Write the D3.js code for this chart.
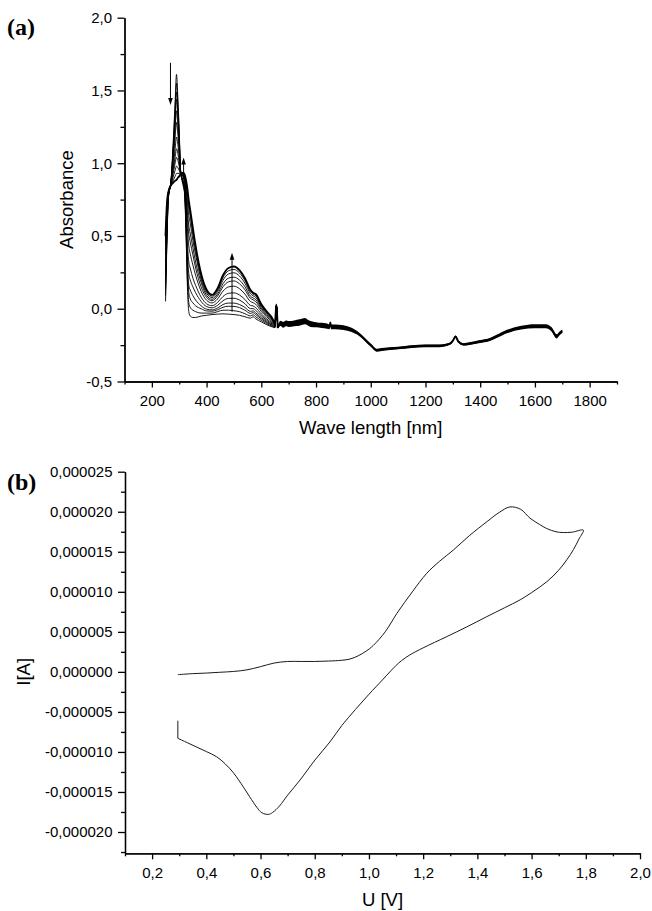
<!DOCTYPE html>
<html>
<head>
<meta charset="utf-8">
<script src="https://cdn.jsdelivr.net/npm/d3@7"></script>
<style>
  body { margin: 0; background: #fff; }
  svg { display: block; }
</style>
</head>
<body>
<svg id="chart" width="652" height="911"></svg>
<script>
// ---------- (a) UV-Vis-NIR spectra ----------
const wavelengths = [250,255,260,270,280,285,290,295,300,305,315,320,325,330,335,340,350,360,380,400,420,440,460,480,500,520,540,560,570,580,600,620,640,650,655,660];

const spectrum1  = [0.05,0.45,0.75,0.88,1.22,1.42,1.61,1.45,1.22,0.95,0.84,0.78,0.50,0.15,-0.02,-0.05,-0.06,-0.06,-0.05,-0.045,-0.04,-0.037,-0.035,-0.037,-0.04,-0.045,-0.055,-0.065,-0.055,-0.07,-0.09,-0.11,-0.125,-0.13,0.02,-0.13];
const spectrum2  = [0.09,0.47,0.75,0.88,1.19,1.38,1.55,1.41,1.20,0.95,0.85,0.79,0.53,0.20,0.04,0.01,-0.01,-0.02,-0.03,-0.03,-0.03,-0.02,-0.01,-0.01,-0.014,-0.02,-0.034,-0.049,-0.042,-0.056,-0.08,-0.103,-0.12,-0.128,0.02,-0.13];
const spectrum3  = [0.13,0.50,0.76,0.875,1.16,1.33,1.49,1.36,1.17,0.95,0.86,0.80,0.56,0.26,0.11,0.07,0.04,0.02,0.00,-0.015,-0.017,-0.007,0.01,0.017,0.016,0.008,-0.01,-0.032,-0.027,-0.041,-0.07,-0.095,-0.115,-0.125,0.02,-0.13];
const spectrum4  = [0.16,0.51,0.76,0.87,1.14,1.29,1.44,1.32,1.15,0.94,0.86,0.81,0.59,0.31,0.16,0.13,0.09,0.06,0.02,-0.003,-0.008,0.005,0.029,0.039,0.039,0.029,0.009,-0.018,-0.015,-0.029,-0.061,-0.088,-0.111,-0.123,0.02,-0.13];
const spectrum5  = [0.20,0.54,0.77,0.87,1.10,1.24,1.36,1.26,1.11,0.94,0.87,0.83,0.63,0.38,0.24,0.20,0.15,0.11,0.05,0.015,0.006,0.023,0.055,0.071,0.072,0.06,0.035,0.001,0.001,-0.012,-0.049,-0.079,-0.105,-0.12,0.02,-0.13];
const spectrum6  = [0.25,0.57,0.77,0.87,1.06,1.18,1.28,1.20,1.08,0.94,0.88,0.84,0.67,0.45,0.32,0.28,0.21,0.16,0.08,0.034,0.021,0.043,0.084,0.106,0.109,0.095,0.064,0.023,0.019,0.007,-0.036,-0.07,-0.098,-0.116,0.02,-0.13];
const spectrum7  = [0.32,0.61,0.78,0.86,1.01,1.10,1.18,1.13,1.04,0.94,0.90,0.86,0.72,0.55,0.43,0.38,0.30,0.23,0.12,0.058,0.04,0.067,0.121,0.15,0.155,0.138,0.101,0.05,0.042,0.03,-0.019,-0.057,-0.09,-0.112,0.02,-0.13];
const spectrum8  = [0.37,0.64,0.79,0.86,0.98,1.04,1.10,1.07,1.00,0.93,0.91,0.88,0.77,0.62,0.51,0.46,0.37,0.28,0.15,0.078,0.055,0.087,0.151,0.185,0.191,0.172,0.131,0.072,0.061,0.049,-0.006,-0.047,-0.083,-0.109,0.02,-0.13];
const spectrum9  = [0.40,0.66,0.79,0.86,0.95,1.00,1.04,1.02,0.98,0.93,0.91,0.89,0.80,0.67,0.57,0.52,0.42,0.32,0.18,0.092,0.065,0.101,0.172,0.21,0.217,0.197,0.152,0.087,0.074,0.063,0.004,-0.04,-0.078,-0.107,0.02,-0.13];
const spectrum10 = [0.44,0.69,0.79,0.85,0.92,0.95,0.98,0.97,0.95,0.93,0.92,0.90,0.83,0.73,0.64,0.59,0.47,0.37,0.20,0.107,0.077,0.117,0.196,0.239,0.247,0.225,0.176,0.105,0.089,0.078,0.014,-0.032,-0.073,-0.104,0.02,-0.13];
const spectrum11 = [0.47,0.70,0.80,0.85,0.89,0.91,0.93,0.93,0.93,0.93,0.93,0.91,0.86,0.78,0.69,0.64,0.51,0.40,0.22,0.12,0.087,0.129,0.214,0.261,0.27,0.246,0.194,0.118,0.10,0.09,0.023,-0.025,-0.069,-0.102,0.02,-0.13];
const spectrum12 = [0.50,0.72,0.80,0.85,0.87,0.88,0.885,0.90,0.91,0.925,0.935,0.92,0.88,0.82,0.74,0.68,0.55,0.43,0.24,0.13,0.095,0.14,0.23,0.28,0.29,0.265,0.21,0.13,0.11,0.10,0.03,-0.02,-0.065,-0.10,0.03,-0.13];

// NIR region, where all spectra overlap into one noisy band
const nirWavelengths = [660,670,680,690,700,720,740,760,770,780,800,820,840,850,852,855,870,900,930,950,1000,1022,1040,1100,1150,1200,1250,1290,1300,1310,1320,1340,1360,1400,1430,1460,1500,1550,1600,1640,1660,1680,1690,1700];
const nirAbsorbance  = [-0.13,-0.10,-0.11,-0.10,-0.105,-0.10,-0.095,-0.085,-0.095,-0.105,-0.11,-0.115,-0.12,-0.125,-0.095,-0.125,-0.125,-0.13,-0.145,-0.165,-0.25,-0.285,-0.28,-0.27,-0.26,-0.255,-0.255,-0.24,-0.22,-0.19,-0.225,-0.245,-0.24,-0.225,-0.215,-0.19,-0.155,-0.13,-0.12,-0.12,-0.14,-0.19,-0.17,-0.155];
const nirSpread      = [0.01,0.018,0.02,0.02,0.02,0.02,0.022,0.022,0.02,0.02,0.018,0.018,0.018,0.016,0.008,0.016,0.016,0.016,0.014,0.012,0.01,0.01,0.01,0.009,0.009,0.009,0.009,0.008,0.007,0.006,0.007,0.008,0.009,0.01,0.01,0.011,0.012,0.013,0.014,0.014,0.014,0.014,0.013,0.012];

// Arrows marking the direction of change: [wavelength, tail, head]
const arrowMarks = [[268, 1.69, 1.40], [316, 0.89, 1.04], [493, -0.02, 0.385]];

const absTicks = [-0.5, 0, 0.5, 1.0, 1.5, 2.0];
const absMinorTicks = [-0.25, 0.25, 0.75, 1.25, 1.75];
const wlTicks = [200, 400, 600, 800, 1000, 1200, 1400, 1600, 1800];
const wlMinorTicks = [100, 300, 500, 700, 900, 1100, 1300, 1500, 1700, 1900];

// ---------- (b) cyclic voltammogram (current in µA) ----------
const cvPotential = [0.295,0.35,0.40,0.45,0.50,0.55,0.60,0.65,0.70,0.75,0.80,0.85,0.90,0.93,0.96,0.99,1.016,1.06,1.103,1.16,1.213,1.26,1.311,1.37,1.435,1.48,1.52,1.56,1.594,1.63,1.656,1.69,1.717,1.75,1.791,
                     1.775,1.755,1.73,1.70,1.656,1.60,1.558,1.50,1.435,1.36,1.287,1.20,1.15,1.12,1.10,1.08,1.05,1.00,0.95,0.90,0.856,0.801,0.746,0.70,0.67,0.645,0.629,0.605,0.586,0.56,0.537,0.50,0.47,0.438,0.40,0.365,0.33,0.295,0.295];
const cvCurrent   = [-0.35,-0.22,-0.15,-0.05,0.05,0.25,0.65,1.10,1.30,1.30,1.30,1.35,1.45,1.60,2.0,2.6,3.3,5.0,7.3,10.0,12.3,13.8,15.2,17.0,18.75,19.9,20.6,20.3,19.2,18.4,17.9,17.5,17.4,17.45,17.7,
                     16.6,15.3,14.0,12.7,11.25,9.9,9.0,8.0,6.9,5.6,4.4,3.0,2.1,1.4,0.8,0.1,-1.0,-2.8,-4.7,-6.7,-8.75,-11.0,-13.5,-15.4,-16.75,-17.55,-17.8,-17.6,-16.9,-15.6,-14.4,-12.6,-11.5,-10.6,-9.95,-9.4,-8.85,-8.3,-6.1];

const potTicks = [0.2, 0.4, 0.6, 0.8, 1.0, 1.2, 1.4, 1.6, 1.8, 2.0];
const potMinorTicks = [0.1, 0.3, 0.5, 0.7, 0.9, 1.1, 1.3, 1.5, 1.7, 1.9];
const currentTicks = [-20, -15, -10, -5, 0, 5, 10, 15, 20, 25];
const currentMinorTicks = [-22.5, -17.5, -12.5, -7.5, -2.5, 2.5, 7.5, 12.5, 17.5, 22.5];

// ---------- drawing ----------
const svg = d3.select("#chart");
const sans = "'Liberation Sans', Arial, Helvetica, sans-serif";
const serif = "'Liberation Serif', 'Times New Roman', serif";
const comma = s => s.replace(".", ",").replace("\u2212", "-");

function drawAxis(parent, make, scale, majors, minors, fmt, majorLen, minorLen, pad, at) {
  const g = parent.append("g").attr("transform", at);
  g.append("g").call(make(scale).tickValues(minors).tickSize(minorLen).tickSizeOuter(0).tickFormat(""));
  g.append("g").call(make(scale).tickValues(majors).tickSize(majorLen).tickSizeOuter(0).tickPadding(pad).tickFormat(fmt));
  g.selectAll(".domain, .tick line").attr("stroke", "#000").attr("stroke-width", 1.3);
  g.selectAll("text").attr("fill", "#000").style("font-family", sans).style("font-size", "15px");
  return g;
}

// Panel (a)
const xA = d3.scaleLinear().domain([100, 1900]).range([124.5, 617]);
const yA = d3.scaleLinear().domain([-0.5, 2.0]).range([381.5, 17.7]);

drawAxis(svg, d3.axisBottom, xA, wlTicks, wlMinorTicks, d => String(d), 6, 3, 8, `translate(0,${yA(-0.5)})`);
drawAxis(svg, d3.axisLeft, yA, absTicks, absMinorTicks, d => comma(d.toFixed(1)), 7, 4, 5.5, `translate(${xA(100)},0)`);

const spectra = [spectrum1, spectrum2, spectrum3, spectrum4, spectrum5, spectrum6,
                 spectrum7, spectrum8, spectrum9, spectrum10, spectrum11, spectrum12];
const specLine = d3.line().x(d => xA(d[0])).y(d => yA(d[1])).curve(d3.curveMonotoneX);

const gA = svg.append("g");
spectra.forEach((s, i) => {
  gA.append("path")
    .attr("d", specLine(wavelengths.map((w, j) => [w, s[j]])))
    .attr("fill", "none")
    .attr("stroke", "#000")
    .attr("stroke-width", i === spectra.length - 1 ? 1.9 : 0.9)
    .attr("stroke-linejoin", "round");
});

const nir = nirWavelengths.map((w, j) => [w, nirAbsorbance[j], nirSpread[j]]);
gA.append("path")
  .attr("d", d3.area().x(d => xA(d[0])).y0(d => yA(d[1] - d[2])).y1(d => yA(d[1] + d[2])).curve(d3.curveMonotoneX)(nir))
  .attr("fill", "#000");
gA.append("path")
  .attr("d", specLine(nir))
  .attr("fill", "none").attr("stroke", "#000").attr("stroke-width", 2);

arrowMarks.forEach(([w, from, to]) => {
  const x = xA(w), y0 = yA(from), y1 = yA(to);
  const dir = y1 < y0 ? 1 : -1;
  gA.append("line").attr("x1", x).attr("x2", x).attr("y1", y0).attr("y2", y1 + dir * 5)
    .attr("stroke", "#000").attr("stroke-width", 1);
  gA.append("path")
    .attr("d", `M${x},${y1} L${x - 2.3},${y1 + dir * 7} L${x + 2.3},${y1 + dir * 7} Z`)
    .attr("fill", "#000");
});

svg.append("text").attr("x", xA(1000)).attr("y", 434)
  .attr("text-anchor", "middle").style("font-family", sans).style("font-size", "18.5px")
  .text("Wave length [nm]");
svg.append("text").attr("transform", `translate(72.5,${yA(0.75)}) rotate(-90)`)
  .attr("text-anchor", "middle").style("font-family", sans).style("font-size", "18.5px")
  .text("Absorbance");
svg.append("text").attr("x", 7).attr("y", 35)
  .style("font-family", serif).style("font-weight", "bold").style("font-size", "24px")
  .text("(a)");

// Panel (b)
const xB = d3.scaleLinear().domain([0.1, 2.0]).range([125, 640]);
const yB = d3.scaleLinear().domain([-22.66, 25]).range([853.3, 471.7]);

drawAxis(svg, d3.axisBottom, xB, potTicks, potMinorTicks, d => comma(d.toFixed(1)), 6, 3, 8.5, `translate(0,${yB(-22.66)})`);
drawAxis(svg, d3.axisLeft, yB, currentTicks, currentMinorTicks, d => comma((d * 1e-6).toFixed(6)), 7, 4, 5.5, `translate(${xB(0.1)},0)`);

// Smooth sweep, then the short straight step at the end of the scan
const cvPoints = cvPotential.map((v, j) => [v, cvCurrent[j]]);
const cvSmooth = d3.line().x(d => xB(d[0])).y(d => yB(d[1])).curve(d3.curveCatmullRom.alpha(0.5));
const cvStraight = d3.line().x(d => xB(d[0])).y(d => yB(d[1]));
svg.append("path")
  .attr("d", cvSmooth(cvPoints.slice(0, -1)))
  .attr("fill", "none").attr("stroke", "#1a1a1a").attr("stroke-width", 1);
svg.append("path")
  .attr("d", cvStraight(cvPoints.slice(-2)))
  .attr("fill", "none").attr("stroke", "#1a1a1a").attr("stroke-width", 1);

svg.append("text").attr("x", xB(1.05)).attr("y", 906)
  .attr("text-anchor", "middle").style("font-family", sans).style("font-size", "18.5px")
  .text("U [V]");
svg.append("text").attr("transform", `translate(30,${yB(0)}) rotate(-90)`)
  .attr("text-anchor", "middle").style("font-family", sans).style("font-size", "18.5px")
  .text("I[A]");
svg.append("text").attr("x", 7).attr("y", 490)
  .style("font-family", serif).style("font-weight", "bold").style("font-size", "24px")
  .text("(b)");
</script>
</body>
</html>
